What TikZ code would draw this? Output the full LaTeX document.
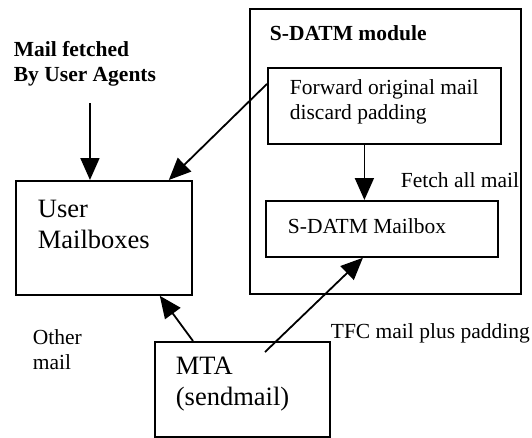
\documentclass[tikz,border=0pt]{standalone}
\usepackage{fontspec}
\setmainfont{Liberation Serif}
\usetikzlibrary{arrows.meta,positioning}

\begin{document}
\begin{tikzpicture}[x=1pt,y=-1pt,>={Triangle[length=22pt,width=19pt]},line width=1.8pt,
  box/.style={draw,anchor=north west,inner sep=0pt},
  txt/.style={anchor=west,inner sep=0pt,align=left,font=\fontsize{21.5}{25}\selectfont},
  btxt/.style={txt,font=\fontsize{21.5}{25}\selectfont\bfseries},
  bigtxt/.style={txt,font=\fontsize{26.5}{31}\selectfont}]
  \useasboundingbox (0,0) rectangle (532,437);
  % boxes
  \node[box,minimum width=271pt,minimum height=285pt] (mod) at (249,8) {};
  \node[box,minimum width=233pt,minimum height=76pt] (fwdbox) at (267,67) {};
  \node[box,minimum width=232pt,minimum height=56pt] (mbxbox) at (265,200) {};
  \node[box,minimum width=176pt,minimum height=114pt] (usrbox) at (15,180) {};
  \node[box,minimum width=175pt,minimum height=95pt] (mtabox) at (154,341) {};
  % texts
  \node[btxt] (modlbl) at (269,33) {S-DATM module};
  \node[btxt] (fetched) at (13,64) {Mail fetched\\By User Agents};
  \node[txt] (fwdtxt) at (289,102) {Forward original mail\\discard padding};
  \node[txt] (fetchall) at (400,180) {Fetch all mail};
  \node[txt] (mbxtxt) at (287,226) {S-DATM Mailbox};
  \node[bigtxt] (usrtxt) at (37,224) {User\\Mailboxes};
  \node[txt] (other) at (32,350) {Other\\mail};
  \node[bigtxt] (mtatxt) at (175,384) {MTA\\(sendmail)};
  \node[txt] (tfc) at (330,333) {TFC mail plus padding};

  \draw[->] ([xshift=5pt,yshift=-16pt]fetched.south) -- ([xshift=5pt]fetched.south |- usrbox.north);
  \draw[->] ([yshift=22pt]fwdbox.west) -- ([xshift=-24pt]usrbox.north east);
  \draw[->] ([xshift=-20pt]fwdbox.south) -- ([xshift=-20pt]fwdbox.south |- mbxbox.north);
  \draw[->] ([xshift=39pt]mtabox.north west) -- ([xshift=-33pt]usrbox.south east);
  \draw[->] ([xshift=111pt,yshift=-11pt]mtabox.north west) -- ([xshift=-19pt]mbxbox.south);
\end{tikzpicture}
\end{document}
